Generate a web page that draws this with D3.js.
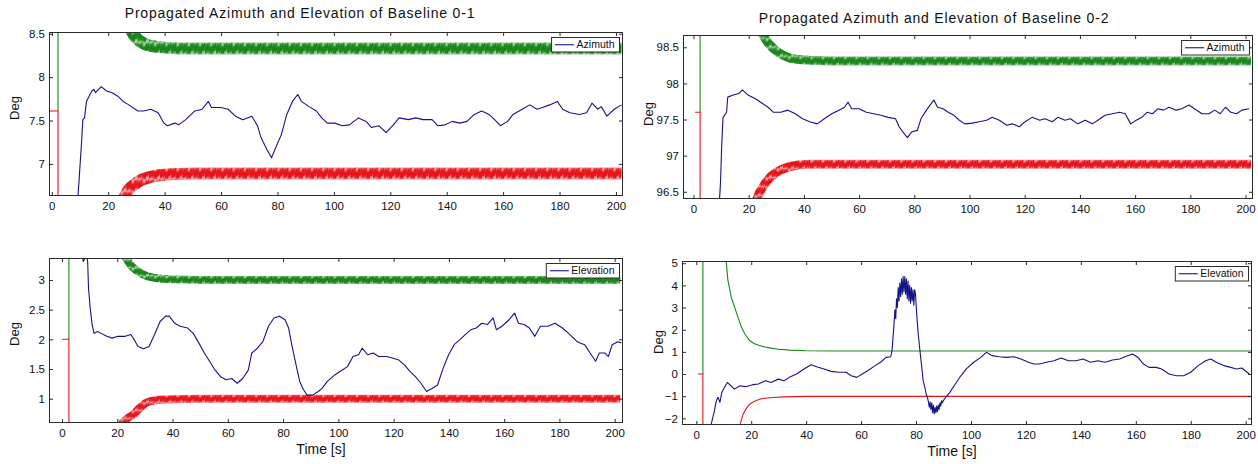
<!DOCTYPE html>
<html><head><meta charset="utf-8">
<script src="https://cdn.jsdelivr.net/npm/d3@7"></script>
<style>
body{margin:0;background:#fff;}
text{font-family:Arial,"Liberation Sans",Helvetica,sans-serif;fill:#111;}
</style></head><body>
<svg id="c" width="1258" height="464"></svg>
<script>
// ---------------- DATA ----------------
const titles = ["Propagated Azimuth and Elevation of Baseline 0-1", "Propagated Azimuth and Elevation of Baseline 0-2"];
const legendLabels = ["Azimuth", "Elevation"];
const xLabel = "Time [s]";
const yLabel = "Deg";
const xTicks = [0,20,40,60,80,100,120,140,160,180,200];
const yTicksAz01 = [7,7.5,8,8.5];
const yTicksEl01 = [1,1.5,2,2.5,3];
const yTicksAz02 = [96.5,97,97.5,98,98.5];
const yTicksEl02 = [-2,-1,0,1,2,3,4,5];

// estimate (blue) series: [time, deg]
const azimuth01 = [[9.0,6.5],[9.7,6.83],[10.6,7.28],[11.0,7.51],[11.6,7.53],[12.3,7.72],[12.9,7.76],[14.2,7.84],[14.9,7.86],[15.5,7.82],[17.5,7.89],[19.4,7.84],[21.4,7.82],[23.4,7.78],[25.3,7.72],[27.3,7.68],[30.5,7.61],[32.5,7.61],[35.1,7.63],[37.7,7.59],[39.7,7.47],[41,7.44],[43.6,7.47],[44.9,7.45],[47.5,7.51],[50.7,7.61],[53.3,7.63],[55.5,7.72],[56.6,7.65],[59.9,7.65],[62.5,7.63],[65.1,7.55],[67.7,7.51],[70.9,7.55],[72.9,7.44],[74.2,7.30],[76.2,7.17],[77.9,7.07],[79.4,7.19],[81.4,7.34],[83.3,7.57],[85.3,7.72],[87.2,7.80],[88.5,7.72],[91.2,7.66],[93.8,7.61],[95.7,7.53],[97.7,7.47],[100.3,7.47],[102.9,7.44],[105.5,7.45],[108.7,7.53],[111.4,7.49],[113.3,7.42],[115.9,7.44],[118.5,7.36],[121.1,7.45],[123.1,7.53],[126.4,7.51],[129,7.53],[131.6,7.51],[134.8,7.51],[136.8,7.44],[139.4,7.45],[142,7.49],[144.6,7.47],[147.2,7.49],[149.8,7.57],[152.4,7.61],[155,7.57],[157,7.51],[159,7.44],[161.6,7.49],[163.5,7.57],[166.8,7.63],[169.4,7.68],[172,7.63],[174,7.65],[176.5,7.68],[179.2,7.72],[181.1,7.63],[183.7,7.59],[187,7.57],[189.6,7.59],[191.5,7.70],[193.5,7.63],[194.8,7.66],[196.8,7.55],[199.4,7.63],[202,7.68]];
const elevation01 = [[7.2,3.5],[7.7,3.31],[8.3,3.36],[8.9,3.42],[9.3,3.3],[9.6,2.86],[10.2,2.53],[10.9,2.25],[11.6,2.10],[12.9,2.13],[14.2,2.10],[16.2,2.05],[18.2,2.02],[20.2,2.05],[22.9,2.05],[24.9,2.08],[26.2,1.99],[27.5,1.88],[29.5,1.84],[31.5,1.88],[33.5,2.08],[35.5,2.30],[37.5,2.39],[38.8,2.39],[40.8,2.27],[42.8,2.22],[45.5,2.19],[47.5,2.10],[49.5,1.94],[51.5,1.77],[53.4,1.63],[55.4,1.48],[57.4,1.37],[59.4,1.32],[61.4,1.34],[63.4,1.26],[65.4,1.34],[67.4,1.48],[68.7,1.77],[70.7,1.85],[72.7,1.96],[74.7,2.22],[76.7,2.36],[78.7,2.39],[80.7,2.33],[82,2.19],[83.4,1.85],[84.7,1.57],[86,1.29],[87.4,1.15],[88.7,1.06],[90.7,1.06],[92.7,1.12],[94,1.17],[96,1.29],[98.7,1.40],[101.3,1.48],[103.3,1.54],[105.3,1.71],[107.3,1.74],[108.6,1.85],[110.6,1.74],[112.6,1.77],[114.6,1.71],[117.3,1.71],[119.9,1.68],[121.9,1.65],[123.9,1.57],[125.9,1.46],[127.9,1.37],[129.9,1.26],[131.9,1.12],[133.9,1.17],[135.9,1.23],[137.9,1.51],[139.9,1.74],[141.9,1.91],[143.9,1.99],[145.9,2.08],[147.9,2.16],[149.9,2.19],[151.9,2.27],[154,2.25],[156,2.36],[157.2,2.16],[159.2,2.22],[161.8,2.33],[163.8,2.44],[165.2,2.27],[167.2,2.25],[169.1,2.19],[171.1,2.05],[173.1,2.22],[175.8,2.22],[178.4,2.27],[181.1,2.19],[183.8,2.08],[186.4,1.96],[189.1,1.91],[191.1,1.77],[193.1,1.63],[194.4,1.77],[196.4,1.77],[197.7,1.71],[199.1,1.91],[201.1,1.96],[202.4,1.94]];
const azimuth02 = [[9.3,96.3],[9.8,96.64],[10.2,97.12],[10.7,97.53],[12,97.6],[12.4,97.81],[14.4,97.84],[16.4,97.86],[17.7,97.91],[19.7,97.84],[22.3,97.79],[24.3,97.74],[27,97.67],[29,97.6],[31.6,97.6],[34.2,97.63],[36.9,97.58],[39.5,97.51],[42.1,97.47],[44.8,97.44],[47.4,97.51],[50.1,97.58],[52.7,97.63],[54.7,97.67],[56,97.74],[57.3,97.65],[60,97.65],[62.6,97.6],[65.3,97.58],[67.9,97.56],[70.5,97.53],[73.2,97.51],[74.5,97.4],[75.8,97.33],[77.5,97.25],[79.1,97.33],[81.1,97.35],[82.4,97.51],[84.4,97.63],[85.7,97.7],[87.1,97.77],[88.4,97.67],[90.4,97.65],[92.3,97.6],[94.3,97.56],[96.3,97.49],[98.3,97.44],[101,97.45],[103.6,97.47],[106.2,97.49],[108.2,97.53],[110.8,97.49],[113.5,97.42],[115.5,97.44],[118.1,97.4],[120.1,97.47],[122.7,97.53],[125.4,97.49],[127.3,97.51],[130,97.47],[132,97.53],[134.6,97.49],[136.6,97.51],[139.2,97.44],[141.9,97.49],[144.5,97.44],[146.5,97.49],[149.1,97.56],[151.8,97.58],[154.4,97.6],[156.4,97.58],[158.4,97.44],[160.4,97.49],[162.4,97.53],[164.3,97.6],[166.3,97.58],[168.3,97.65],[170.3,97.63],[172.3,97.67],[174.9,97.63],[176.9,97.65],[179.5,97.7],[181.5,97.65],[184.2,97.58],[186.8,97.58],[188.8,97.63],[190.8,97.58],[192.7,97.67],[194.7,97.6],[196.7,97.58],[198.7,97.63],[201.3,97.65]];
const elevation02 = [[5.0,-2.5],[5.3,-2.33],[6.6,-1.66],[7.3,-1.2],[7.9,-1.05],[8.6,-1.28],[9.3,-0.83],[10.3,-0.6],[11.3,-0.38],[12.6,-0.53],[13.9,-0.68],[15.9,-0.53],[17.9,-0.57],[20.6,-0.48],[22.6,-0.45],[25.2,-0.3],[27.2,-0.38],[29.9,-0.23],[31.9,-0.3],[33.9,-0.15],[36.5,0],[39.2,0.23],[41.8,0.42],[43.8,0.33],[46.5,0.23],[49.1,0.12],[51.8,0.08],[54.5,0.08],[56.4,-0.08],[58.4,-0.15],[60.4,0],[62.4,0.15],[65.1,0.38],[67.1,0.53],[69.1,0.75],[70.8,0.78],[71.3,1.1],[71.7,1.8],[72.0,2.3],[72.3,2.9],[72.6,2.5],[72.9,3.4],[73.2,3.0],[73.5,3.9],[73.8,3.3],[74.1,4.1],[74.4,3.5],[74.7,4.3],[75.0,3.6],[75.3,4.4],[75.6,3.7],[75.9,4.4],[76.2,3.6],[76.5,4.3],[76.8,3.4],[77.1,4.2],[77.4,3.3],[77.7,4.0],[78.0,3.2],[78.3,3.9],[78.6,3.3],[78.9,3.8],[79.2,3.1],[79.5,3.8],[79.8,3.6],[80.3,2.6],[80.8,1.8],[81.3,1.2],[81.7,0.75],[82.6,-0.3],[83.2,-0.6],[83.7,-0.9],[84.2,-1.1],[84.5,-1.25],[84.8,-1.5],[85.1,-1.25],[85.4,-1.6],[85.7,-1.3],[86.0,-1.75],[86.3,-1.4],[86.6,-1.8],[86.9,-1.5],[87.2,-1.75],[87.5,-1.45],[87.8,-1.7],[88.1,-1.4],[88.4,-1.6],[88.7,-1.3],[89.0,-1.45],[89.3,-1.2],[89.6,-1.3],[90.3,-1.13],[92.3,-0.83],[94.3,-0.45],[96.3,-0.08],[98.3,0.23],[101,0.53],[103.6,0.75],[105.6,0.98],[107.6,0.83],[110.3,0.78],[112.9,0.75],[115.6,0.78],[118.2,0.68],[120.9,0.53],[122.9,0.45],[124.9,0.45],[127.5,0.53],[130.2,0.6],[132.8,0.72],[135.5,0.6],[138.2,0.6],[140.8,0.68],[143.5,0.53],[146.2,0.6],[148.8,0.53],[151.5,0.63],[154.1,0.68],[156.1,0.78],[158.8,0.9],[160.8,0.75],[162.8,0.45],[164.8,0.3],[167.4,0.3],[169.4,0.23],[172.1,0],[174.7,-0.08],[177.4,-0.08],[180,0.08],[182.7,0.38],[185.4,0.6],[187.3,0.68],[189.3,0.53],[192,0.38],[194.6,0.3],[196.6,0.23],[198.6,0.27],[201.3,0]];

// upper (green) and lower (red) bounds: [time, deg]
const upperAz01 = [[26,8.75],[28,8.55],[29,8.49],[30,8.45],[31,8.42],[32,8.40],[33,8.38],[35,8.36],[37,8.35],[40,8.34],[45,8.33],[202,8.33]];
const lowerAz01 = [[24,6.45],[26,6.63],[27,6.69],[28,6.73],[30,6.78],[32,6.82],[35,6.85],[38,6.87],[42,6.88],[50,6.89],[202,6.89]];
const upperEl01 = [[21,3.6],[23,3.38],[25,3.24],[27,3.16],[29,3.10],[31,3.06],[33,3.04],[36,3.02],[40,3.01],[50,3.0],[202,3.0]];
const lowerEl01 = [[20,0.4],[22,0.6],[24,0.68],[26,0.74],[28,0.84],[30,0.92],[32,0.96],[35,0.98],[40,0.99],[50,1.0],[202,1.0]];
const upperAz02 = [[23,98.85],[25,98.68],[27,98.56],[29,98.48],[31,98.42],[33,98.38],[35,98.35],[38,98.33],[42,98.32],[50,98.31],[202,98.31]];
const lowerAz02 = [[22,96.3],[24,96.5],[26,96.62],[28,96.71],[30,96.77],[32,96.81],[35,96.85],[38,96.87],[42,96.88],[50,96.88],[202,96.88]];
const upperEl02 = [[10.5,5.5],[10.9,5.07],[11.5,4.24],[12.7,3.48],[14.3,2.88],[16.4,2.12],[17.8,1.78],[19.4,1.51],[21,1.38],[23,1.29],[25,1.22],[26.7,1.18],[30,1.12],[34,1.08],[40,1.05],[50,1.04],[202,1.04]];
const lowerEl02 = [[15.3,-2.6],[15.8,-2.35],[17,-1.82],[18.2,-1.55],[19.4,-1.36],[21,-1.24],[23,-1.14],[25,-1.09],[27.9,-1.06],[32,-1.03],[40,-1.01],[202,-1.01]];

// initial bound jump: [start time, jump time, value]
const jumpAz01 = [-1, 2.2, 7.61];
const jumpEl01 = [0, 2.5, 2.0];
const jumpAz02 = [0.6, 2.4, 97.6];
const jumpEl02 = [0.6, 2.4, 0];

// ---------------- LAYOUT / STYLE ----------------
const panels = [
  {est: azimuth01, up: upperAz01, lo: lowerAz01, jump: jumpAz01, xd: [-1,202.5], yd: [6.63,8.52], yt: yTicksAz01, leg: legendLabels[0],
   r: {x:49, y:32, w:574, h:164}, band: 12, title: titles[0], tx: 300, ty: 17.5, ylx: 14, yly: 108, xl: null},
  {est: elevation01, up: upperEl01, lo: lowerEl01, jump: jumpEl01, xd: [-4.7,203], yd: [0.59,3.37], yt: yTicksEl01, leg: legendLabels[1],
   r: {x:49, y:258, w:574, h:165}, band: 8, title: null, ylx: 14, yly: 334, xl: [321, 454]},
  {est: azimuth02, up: upperAz02, lo: lowerAz02, jump: jumpAz02, xd: [-3.8,202.7], yd: [96.40,98.67], yt: yTicksAz02, leg: legendLabels[0],
   r: {x:683, y:35, w:570, h:164}, band: 9, title: titles[1], tx: 934, ty: 22.5, ylx: 648, yly: 114, xl: null},
  {est: elevation02, up: upperEl02, lo: lowerEl02, jump: jumpEl02, xd: [-5.2,202.3], yd: [-2.3,5.1], yt: yTicksEl02, leg: legendLabels[1],
   r: {x:682, y:261, w:570, h:164}, band: 0, title: null, ylx: 658, yly: 342, xl: [952, 456]}
];
const C = {blue: "#14148a", green: "#1a861a", red: "#e8141a", frame: "#2b2b2b"};

const svg = d3.select("#c");
svg.append("rect").attr("width",1258).attr("height",464).attr("fill","#fff");
const defs = svg.append("defs");

panels.forEach((p, i) => {
  const {x, y, w, h} = p.r;
  const xs = d3.scaleLinear().domain(p.xd).range([x, x + w]);
  const ys = d3.scaleLinear().domain(p.yd).range([y + h, y]);
  const g = svg.append("g");
  g.append("rect").attr("x", x).attr("y", y).attr("width", w).attr("height", h).attr("fill", "#fff");

  defs.append("clipPath").attr("id", "clip" + i).append("rect").attr("x", x).attr("y", y).attr("width", w).attr("height", h);
  const plot = g.append("g").attr("clip-path", `url(#clip${i})`);
  const line = d3.line().x(d => xs(d[0])).y(d => ys(d[1]));

  // bounds
  [[p.up, C.green, "u"], [p.lo, C.red, "l"]].forEach(([data, col, k]) => {
    if (p.band > 0) {
      const last = data[data.length - 1][1];
      const top = ys(last) - p.band / 2, bh = p.band;
      const pid = `pat${i}${k}`;
      const pw = 11.2;
      const pat = defs.append("pattern").attr("id", pid).attr("patternUnits", "userSpaceOnUse")
        .attr("x", x).attr("y", top).attr("width", pw).attr("height", bh);
      pat.append("rect").attr("width", pw).attr("height", bh).attr("fill", col).attr("opacity", 0.4);
      pat.append("path").attr("d",
        `M0,${bh*0.9} L1.1,${bh*0.08} L2.1,${bh*0.85} L3.3,${bh*0.0} L4.3,${bh*0.95} L5.6,${bh*0.3} L6.5,${bh*0.95} L7.7,${bh*0.1} L8.6,${bh*0.75} L9.9,${bh*0.02} L11.2,${bh*0.9}`)
        .attr("fill", "none").attr("stroke", col).attr("stroke-width", 1.5);
      plot.append("path").datum(data).attr("d", line).attr("fill", "none")
        .attr("stroke", `url(#${pid})`).attr("stroke-width", bh);
    } else {
      plot.append("path").datum(data).attr("d", line).attr("fill", "none")
        .attr("stroke", col).attr("stroke-width", 1.1);
    }
  });

  // initial jump of the bounds
  const [js, jt, jv] = p.jump;
  plot.append("path").datum([[jt, p.yd[1] + 10], [jt, jv]]).attr("d", line).attr("fill", "none").attr("stroke", C.green).attr("stroke-width", 1.1);
  plot.append("path").datum([[js, jv], [jt, jv], [jt, p.yd[0] - 10]]).attr("d", line).attr("fill", "none").attr("stroke", C.red).attr("stroke-width", 1.1);

  // estimate
  plot.append("path").datum(p.est).attr("d", line).attr("fill", "none")
    .attr("stroke", C.blue).attr("stroke-width", 1.1).attr("stroke-linejoin", "round");

  // axes (ticks inside, MATLAB box)
  const tk = 4;
  const fmt = d3.format("~g");
  const axB = g.append("g").attr("transform", `translate(0,${y + h})`)
    .call(d3.axisBottom(xs).tickValues(xTicks).tickSize(-tk).tickPadding(6).tickFormat(fmt));
  const axT = g.append("g").attr("transform", `translate(0,${y})`)
    .call(d3.axisTop(xs).tickValues(xTicks).tickSize(-tk).tickFormat(""));
  const axL = g.append("g").attr("transform", `translate(${x},0)`)
    .call(d3.axisLeft(ys).tickValues(p.yt).tickSize(-tk).tickPadding(4).tickFormat(fmt));
  const axR = g.append("g").attr("transform", `translate(${x + w},0)`)
    .call(d3.axisRight(ys).tickValues(p.yt).tickSize(-tk).tickFormat(""));
  [axB, axT, axL, axR].forEach(a => {
    a.select(".domain").remove();
    a.selectAll("line").attr("stroke", C.frame);
    a.selectAll("text").attr("font-size", 11.5).attr("fill", "#111").style("font-family", "Arial, 'Liberation Sans', sans-serif");
  });

  g.append("rect").attr("x", x + 0.5).attr("y", y + 0.5).attr("width", w - 1).attr("height", h - 1)
    .attr("fill", "none").attr("stroke", C.frame).attr("stroke-width", 1);

  // labels
  g.append("text").attr("transform", `translate(${p.ylx},${p.yly}) rotate(-90)`)
    .attr("text-anchor", "middle").attr("dy", "0.35em").attr("font-size", 13).text(yLabel);
  if (p.title) g.append("text").attr("x", p.tx).attr("y", p.ty).attr("text-anchor", "middle")
    .attr("font-size", 14).style("letter-spacing", "0.8px").text(p.title);
  if (p.xl) g.append("text").attr("x", p.xl[0]).attr("y", p.xl[1]).attr("text-anchor", "middle").attr("font-size", 14).text(xLabel);

  // legend
  const lg = g.append("g");
  const lt = lg.append("text").attr("font-size", 10.5).text(p.leg);
  const tw = lt.node().getComputedTextLength();
  const bw = tw + 30, bh2 = 14.5;
  const bx = x + w - 4 - bw, by = y + 5;
  lg.insert("rect", "text").attr("x", bx + 0.5).attr("y", by + 0.5).attr("width", bw).attr("height", bh2)
    .attr("fill", "#fff").attr("stroke", C.frame).attr("stroke-width", 1);
  lg.append("line").attr("x1", bx + 4).attr("x2", bx + 23).attr("y1", by + bh2 / 2 + 0.5).attr("y2", by + bh2 / 2 + 0.5)
    .attr("stroke", C.blue).attr("stroke-width", 1.1);
  lt.attr("x", bx + 25.5).attr("y", by + bh2 / 2 + 0.5).attr("dy", "0.35em");
});
</script>
</body></html>
